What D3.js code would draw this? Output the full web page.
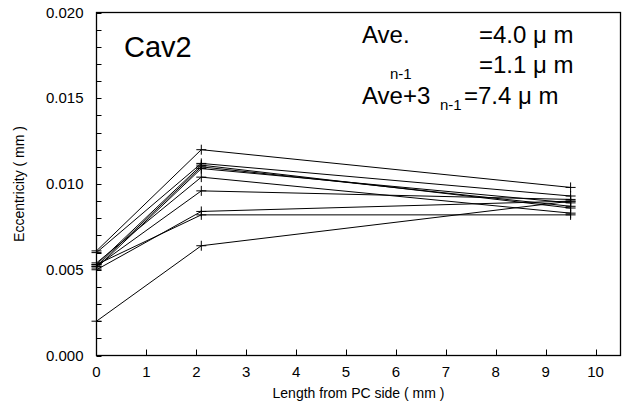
<!DOCTYPE html>
<html><head><meta charset="utf-8">
<script src="https://cdn.jsdelivr.net/npm/d3@7"></script>
<style>body{margin:0;background:#fff}svg{display:block;font-family:"Liberation Sans",Arial,sans-serif}</style>
</head><body><svg id="c" width="628" height="409"></svg>
<script>
const positions = [0, 2.1, 9.5];
const s1 = [0.0061, 0.0120, 0.0098];
const s2 = [0.0060, 0.0112, 0.0093];
const s3 = [0.0053, 0.0111, 0.0086];
const s4 = [0.0052, 0.0110, 0.0087];
const s5 = [0.0051, 0.0109, 0.0089];
const s6 = [0.0054, 0.0104, 0.0083];
const s7 = [0.0052, 0.0096, 0.0091];
const s8 = [0.0050, 0.0084, 0.0090];
const s9 = [0.0053, 0.0082, 0.0082];
const s10 = [0.0020, 0.0064, 0.0090];
const series = [s1, s2, s3, s4, s5, s6, s7, s8, s9, s10];
const xTicks = [0,1,2,3,4,5,6,7,8,9,10];
const yTicks = [0, 0.005, 0.010, 0.015, 0.020];
const yMinor = d3.range(0, 0.0205, 0.001);

const svg = d3.select("#c");
const L = 96.5, R = 620.5, T = 12.5, B = 355.5;
const x = d3.scaleLinear().domain([0, 10.5]).range([L, R]);
const y = d3.scaleLinear().domain([0, 0.02]).range([B, T]);

// frame
svg.append("rect").attr("x", L).attr("y", T).attr("width", R - L).attr("height", B - T)
  .attr("fill", "none").attr("stroke", "#000").attr("stroke-width", 1.3);

// y minor ticks inward
svg.append("g").selectAll("line").data(yMinor).join("line")
  .attr("x1", L).attr("x2", L + 5)
  .attr("y1", d => Math.round(y(d)) + 0.5).attr("y2", d => Math.round(y(d)) + 0.5)
  .attr("stroke", "#000");
svg.append("g").selectAll("text").data(yTicks).join("text")
  .attr("x", L - 13).attr("y", d => y(d) + 5)
  .attr("text-anchor", "end").attr("font-size", 15)
  .text(d => d3.format(".3f")(d));

// x ticks inward
svg.append("g").selectAll("line").data(xTicks.slice(1)).join("line")
  .attr("x1", d => Math.round(x(d)) + 0.5).attr("x2", d => Math.round(x(d)) + 0.5)
  .attr("y1", B).attr("y2", B - 6).attr("stroke", "#000");
svg.append("g").selectAll("text").data(xTicks).join("text")
  .attr("x", d => x(d)).attr("y", B + 21)
  .attr("text-anchor", "middle").attr("font-size", 15)
  .text(d => d);

// axis titles
svg.append("text").attr("x", x(5.25)).attr("y", 398).attr("text-anchor", "middle")
  .attr("font-size", 14).text("Length from PC side ( mm )");
svg.append("text").attr("transform", `translate(24,${(T + B) / 2}) rotate(-90)`)
  .attr("text-anchor", "middle").attr("font-size", 14).text("Eccentricity ( mm )");

// lines
const line = d3.line().x((d, i) => x(positions[i])).y(d => y(d));
svg.append("g").selectAll("path").data(series).join("path")
  .attr("d", line).attr("fill", "none").attr("stroke", "#000").attr("stroke-width", 1);

// markers
const pts = [];
series.forEach(s => s.forEach((v, i) => pts.push([positions[i], v])));
const m = svg.append("g").selectAll("g").data(pts).join("g")
  .attr("transform", d => `translate(${x(d[0])},${y(d[1])})`);
m.append("line").attr("x1", -5).attr("x2", 5).attr("y1", 0).attr("y2", 0).attr("stroke", "#000");
m.append("line").attr("x1", 0).attr("x2", 0).attr("y1", -5).attr("y2", 5).attr("stroke", "#000");

// annotations
svg.append("text").attr("x", 124).attr("y", 57).attr("font-size", 29).text("Cav2");
const ann = svg.append("g").attr("font-size", 24);
ann.append("text").attr("x", 362).attr("y", 43).text("Ave.");
ann.append("text").attr("x", 479).attr("y", 43).text("=4.0 μ m");
ann.append("text").attr("x", 390).attr("y", 79).attr("font-size", 15).text("n-1");
ann.append("text").attr("x", 479).attr("y", 73).text("=1.1 μ m");
ann.append("text").attr("x", 362).attr("y", 104).text("Ave+3");
ann.append("text").attr("x", 440).attr("y", 110).attr("font-size", 15).text("n-1");
ann.append("text").attr("x", 464).attr("y", 104).text("=7.4 μ m");
</script></body></html>
